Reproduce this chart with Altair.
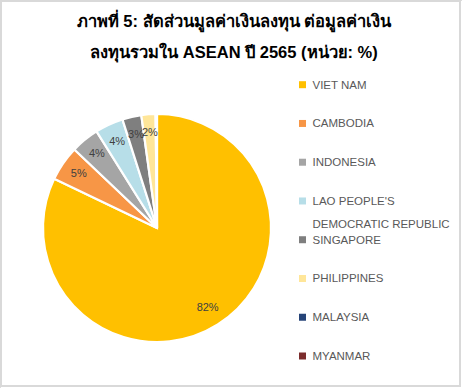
import altair as alt
import pandas as pd

# ---- data ----
countries = ["VIET NAM", "CAMBODIA", "INDONESIA", "LAO PEOPLE'S DEMOCRATIC REPUBLIC",
             "SINGAPORE", "PHILIPPINES", "MALAYSIA", "MYANMAR"]
legend_labels = ["VIET NAM", "CAMBODIA", "INDONESIA", "LAO PEOPLE'S\nDEMOCRATIC REPUBLIC",
                 "SINGAPORE", "PHILIPPINES", "MALAYSIA", "MYANMAR"]
shares = [82.1, 5.0, 4.0, 4.0, 2.7, 2.0, 0.15, 0.05]
slice_labels = ["82%", "5%", "4%", "4%", "3%", "2%", "", ""]
colors = ["#FFC000", "#F79646", "#A5A5A5", "#B7DEE8", "#7F7F7F", "#FFE699", "#264478", "#7B2C2C"]
title_text = "ภาพที่ 5: สัดส่วนมูลค่าเงินลงทุน ต่อมูลค่าเงิน\nลงทุนรวมใน ASEAN ปี 2565 (หน่วย: %)"

df = pd.DataFrame({
    "country": countries,
    "legend": legend_labels,
    "share": shares,
    "label": slice_labels,
    "idx": list(range(len(countries))),
})

W, H = 462, 388
CX, CY, R = 157, 228, 114

color_scale = alt.Scale(domain=countries, range=colors)

frame = alt.Chart(alt.Data(values=[{"a": 1}])).mark_rect(
    fill="white", stroke="#D9D9D9", strokeWidth=2
).encode(x=alt.value(1), x2=alt.value(460), y=alt.value(1), y2=alt.value(386))

base = alt.Chart(df)

pie = base.mark_arc(outerRadius=R, stroke="white", strokeWidth=2.2).encode(
    theta=alt.Theta("share:Q", stack=True),
    color=alt.Color("country:N", scale=color_scale, legend=None),
    order=alt.Order("idx:Q"),
    x=alt.value(CX),
    y=alt.value(CY),
)

pie_text = base.mark_text(radius=95, font="Liberation Sans", fontSize=11, color="#404040").encode(
    theta=alt.Theta("share:Q", stack=True),
    order=alt.Order("idx:Q"),
    text="label:N",
    x=alt.value(CX),
    y=alt.value(CY),
)

ypos = alt.Y("country:N",
             scale=alt.Scale(type="point", domain=countries, range=[84.7, 356], padding=0),
             axis=None)

leg_sq = base.mark_square(size=49, opacity=1).encode(
    x=alt.value(302.5),
    y=ypos,
    color=alt.Color("country:N", scale=color_scale, legend=None),
)

leg_txt = base.mark_text(
    align="left", baseline="alphabetic", dy=4, font="Liberation Sans", fontSize=11.5,
    color="#595959", lineBreak="\n", lineHeight=23
).encode(x=alt.value(312.5), y=ypos, text="legend:N")

title = alt.Chart(alt.Data(values=[{"t": title_text}])).mark_text(
    align="center", baseline="alphabetic", font="Liberation Sans", fontSize=16.5,
    fontWeight="bold", color="#000000", lineBreak="\n", lineHeight=31
).encode(x=alt.value(234), y=alt.value(27), text="t:N")

chart = alt.layer(frame, pie, pie_text, leg_sq, leg_txt, title).properties(
    width=W, height=H, autosize=alt.AutoSizeParams(type="none"), padding=0
).configure_view(stroke=None).configure(background="white")

chart.save("out.html", embed_options={"renderer": "svg", "actions": False})
